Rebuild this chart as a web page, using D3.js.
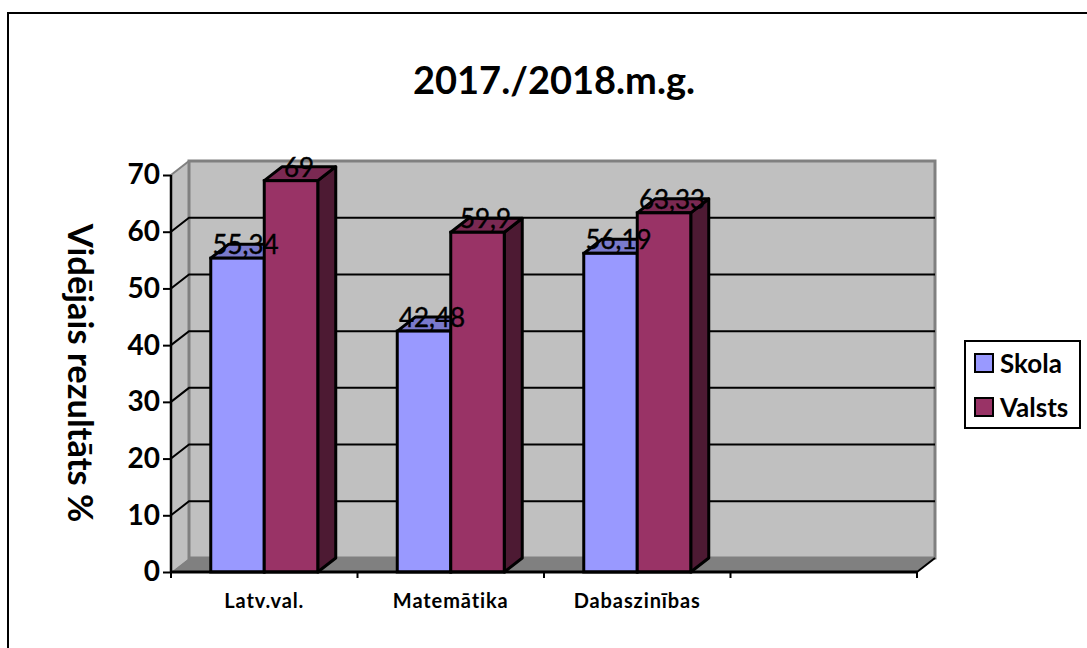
<!DOCTYPE html>
<html>
<head>
<meta charset="utf-8">
<script src="https://cdn.jsdelivr.net/npm/d3@7"></script>
<style>
html, body { margin: 0; padding: 0; background: #fff; }
svg { display: block; }
text { font-family: Lato, "Open Sans", sans-serif; fill: #000; }
</style>
</head>
<body>
<div id="svg_container"></div>
<script>
/* -----------------------
data
------------------------- */

var categories = ['Latv.val.', 'Matemātika', 'Dabaszinības', ''];
var seriesNames = ['Skola', 'Valsts'];
var skola = [55.34, 42.48, 56.19, null];
var valsts = [69, 59.9, 63.33, null];
var skolaLabels = ['55,34', '42,48', '56,19'];
var valstsLabels = ['69', '59,9', '63,33'];
var yTicks = [0, 10, 20, 30, 40, 50, 60, 70];
var chartTitle = '2017./2018.m.g.';
var yTitle = 'Vidējais rezultāts %';

/* -----------------------
main variables
------------------------- */

var width = 1087;
var height = 648;

var plot_l = 171, plot_r = 917, plot_t = 175, plot_b = 572;
var depth_x = 18, depth_y = -14;

var colors = {
	Skola: {front: '#9999ff', top: '#7a7acc', side: '#5c5c99'},
	Valsts: {front: '#993366', top: '#7a2952', side: '#4d1a33'}
};

var svg = d3.select('#svg_container')
	.append('svg')
	.attr('width', width)
	.attr('height', height)
	.attr('viewBox', '0 0 ' + width + ' ' + height);

var x0 = d3.scaleBand().domain(d3.range(categories.length)).range([plot_l, plot_r]);
var x1 = d3.scaleBand().domain(seriesNames).range([0, x0.bandwidth()]).paddingOuter(0.743).paddingInner(0);
var y = d3.scaleLinear().domain([0, 70]).range([plot_b, plot_t]);

function pts(list) {
	return list.map(function (p) { return p.join(','); }).join(' ');
}

/* -----------------------
frame and title
------------------------- */

svg.append('path')
	.attr('d', 'M8,648V13H1087')
	.attr('fill', 'none')
	.attr('stroke', '#000')
	.attr('stroke-width', 2);

svg.append('text')
	.attr('x', 554)
	.attr('y', 94)
	.attr('text-anchor', 'middle')
	.attr('font-size', 38)
	.attr('font-weight', 700)
	.text(chartTitle);

/* -----------------------
walls and floor
------------------------- */

var wall = svg.append('g');

// side wall
wall.append('polygon')
	.attr('points', pts([[plot_l, y(0)], [plot_l + depth_x, y(0) + depth_y], [plot_l + depth_x, y(70) + depth_y], [plot_l, y(70)]]))
	.attr('fill', '#c0c0c0');

// back wall
wall.append('rect')
	.attr('x', plot_l + depth_x)
	.attr('y', y(70) + depth_y)
	.attr('width', plot_r - plot_l)
	.attr('height', y(0) - y(70))
	.attr('fill', '#c0c0c0')
	.attr('stroke', '#808080')
	.attr('stroke-width', 3);

// side wall outline
wall.append('polyline')
	.attr('points', pts([[plot_l, y(70)], [plot_l + depth_x, y(70) + depth_y]]))
	.attr('fill', 'none')
	.attr('stroke', '#808080')
	.attr('stroke-width', 2);

// floor
wall.append('polygon')
	.attr('points', pts([[plot_l, y(0)], [plot_l + depth_x, y(0) + depth_y], [plot_r + depth_x, y(0) + depth_y], [plot_r, y(0)]]))
	.attr('fill', '#808080');

// gridlines go round the side wall and along the back
var grid = svg.append('g');
yTicks.forEach(function (t) {
	if (t === 0 || t === 70) return;
	grid.append('polyline')
		.attr('points', pts([[plot_l, y(t)], [plot_l + depth_x, y(t) + depth_y], [plot_r + depth_x, y(t) + depth_y]]))
		.attr('fill', 'none')
		.attr('stroke', '#000')
		.attr('stroke-width', 2);
});

/* -----------------------
bars
------------------------- */

var stroke_w = 3;

function drawBars(name, values) {
	var c = colors[name];
	var g = svg.append('g').attr('class', 'series');
	categories.forEach(function (cat, i) {
		if (values[i] == null) return;
		var l = x0(i) + x1(name);
		var r = l + x1.bandwidth();
		var t = y(values[i]);
		var b = y(0);

		g.append('polygon')
			.attr('points', pts([[r, b], [r + depth_x, b + depth_y], [r + depth_x, t + depth_y], [r, t]]))
			.attr('fill', c.side).attr('stroke', '#000').attr('stroke-width', stroke_w).attr('stroke-linejoin', 'round');
		g.append('polygon')
			.attr('points', pts([[l, t], [l + depth_x, t + depth_y], [r + depth_x, t + depth_y], [r, t]]))
			.attr('fill', c.top).attr('stroke', '#000').attr('stroke-width', stroke_w).attr('stroke-linejoin', 'round');
		g.append('rect')
			.attr('x', l).attr('y', t)
			.attr('width', r - l).attr('height', b - t)
			.attr('fill', c.front).attr('stroke', '#000').attr('stroke-width', stroke_w);
	});
}

drawBars('Skola', skola);
drawBars('Valsts', valsts);

/* -----------------------
axes
------------------------- */

var yAxis = d3.axisLeft(y).tickValues(yTicks).tickSize(12).tickPadding(3).tickFormat(d3.format('d'));
var gy = svg.append('g')
	.attr('transform', 'translate(' + plot_l + ',0)')
	.call(yAxis);
gy.select('.domain').attr('stroke', '#000').attr('stroke-width', 2.5).attr('d', 'M0,' + plot_t + 'V' + plot_b);
gy.selectAll('.tick line').attr('stroke', '#000').attr('stroke-width', 2).attr('x1', 0).attr('x2', -8);
gy.selectAll('.tick text').attr('font-size', 28).attr('font-weight', 700).attr('x', -11)
	.attr('font-family', 'Lato');

var tickPos = d3.range(categories.length + 1).map(function (i) {
	return plot_l + i * x0.step();
});
var xAxisG = svg.append('g');
xAxisG.append('line')
	.attr('x1', plot_l).attr('x2', plot_r).attr('y1', plot_b).attr('y2', plot_b)
	.attr('stroke', '#000').attr('stroke-width', 3);
xAxisG.selectAll('.xtick').data(tickPos).enter().append('line')
	.attr('class', 'xtick')
	.attr('x1', function (d) { return d; }).attr('x2', function (d) { return d; })
	.attr('y1', plot_b).attr('y2', plot_b + 6)
	.attr('stroke', '#000').attr('stroke-width', 2);
// right end of the floor edge
xAxisG.append('line')
	.attr('x1', plot_r).attr('y1', plot_b).attr('x2', plot_r + depth_x).attr('y2', plot_b + depth_y)
	.attr('stroke', '#000').attr('stroke-width', 2);

xAxisG.selectAll('.xlabel').data(categories).enter().append('text')
	.attr('class', 'xlabel')
	.attr('x', function (d, i) { return x0(i) + x0.bandwidth() / 2; })
	.attr('y', 608)
	.attr('text-anchor', 'middle')
	.attr('font-size', 20)
	.attr('letter-spacing', 0.9)
	.attr('font-weight', 700)
	.text(function (d) { return d; });

svg.append('text')
	.attr('transform', 'translate(68,373) rotate(90)')
	.attr('text-anchor', 'middle')
	.attr('font-size', 34.5)
	.attr('font-weight', 700)
	.text(yTitle);

/* -----------------------
value labels
------------------------- */

function drawLabels(name, values, labels) {
	labels.forEach(function (lab, i) {
		svg.append('text')
			.attr('x', x0(i) + x1(name) + x1.bandwidth() / 2 + 8)
			.attr('y', y(values[i]) - 4)
			.attr('text-anchor', 'middle')
			.attr('font-size', 26)
			.attr('stroke', '#000')
			.attr('stroke-width', 0.4)
			.text(lab);
	});
}

drawLabels('Skola', skola, skolaLabels);
drawLabels('Valsts', valsts, valstsLabels);

/* -----------------------
legend
------------------------- */

var legend = svg.append('g').attr('transform', 'translate(965,341)');

legend.append('rect')
	.attr('width', 115).attr('height', 87)
	.attr('fill', '#fff').attr('stroke', '#000').attr('stroke-width', 2);

seriesNames.forEach(function (name, i) {
	var ly = 13 + i * 44;
	legend.append('rect')
		.attr('x', 10).attr('y', ly)
		.attr('width', 18).attr('height', 18)
		.attr('fill', colors[name].front).attr('stroke', '#000').attr('stroke-width', 2);
	legend.append('text')
		.attr('x', 35).attr('y', ly + 19)
		.attr('font-size', 26)
		.attr('font-weight', 700)
		.text(name);
});
</script>
</body>
</html>
